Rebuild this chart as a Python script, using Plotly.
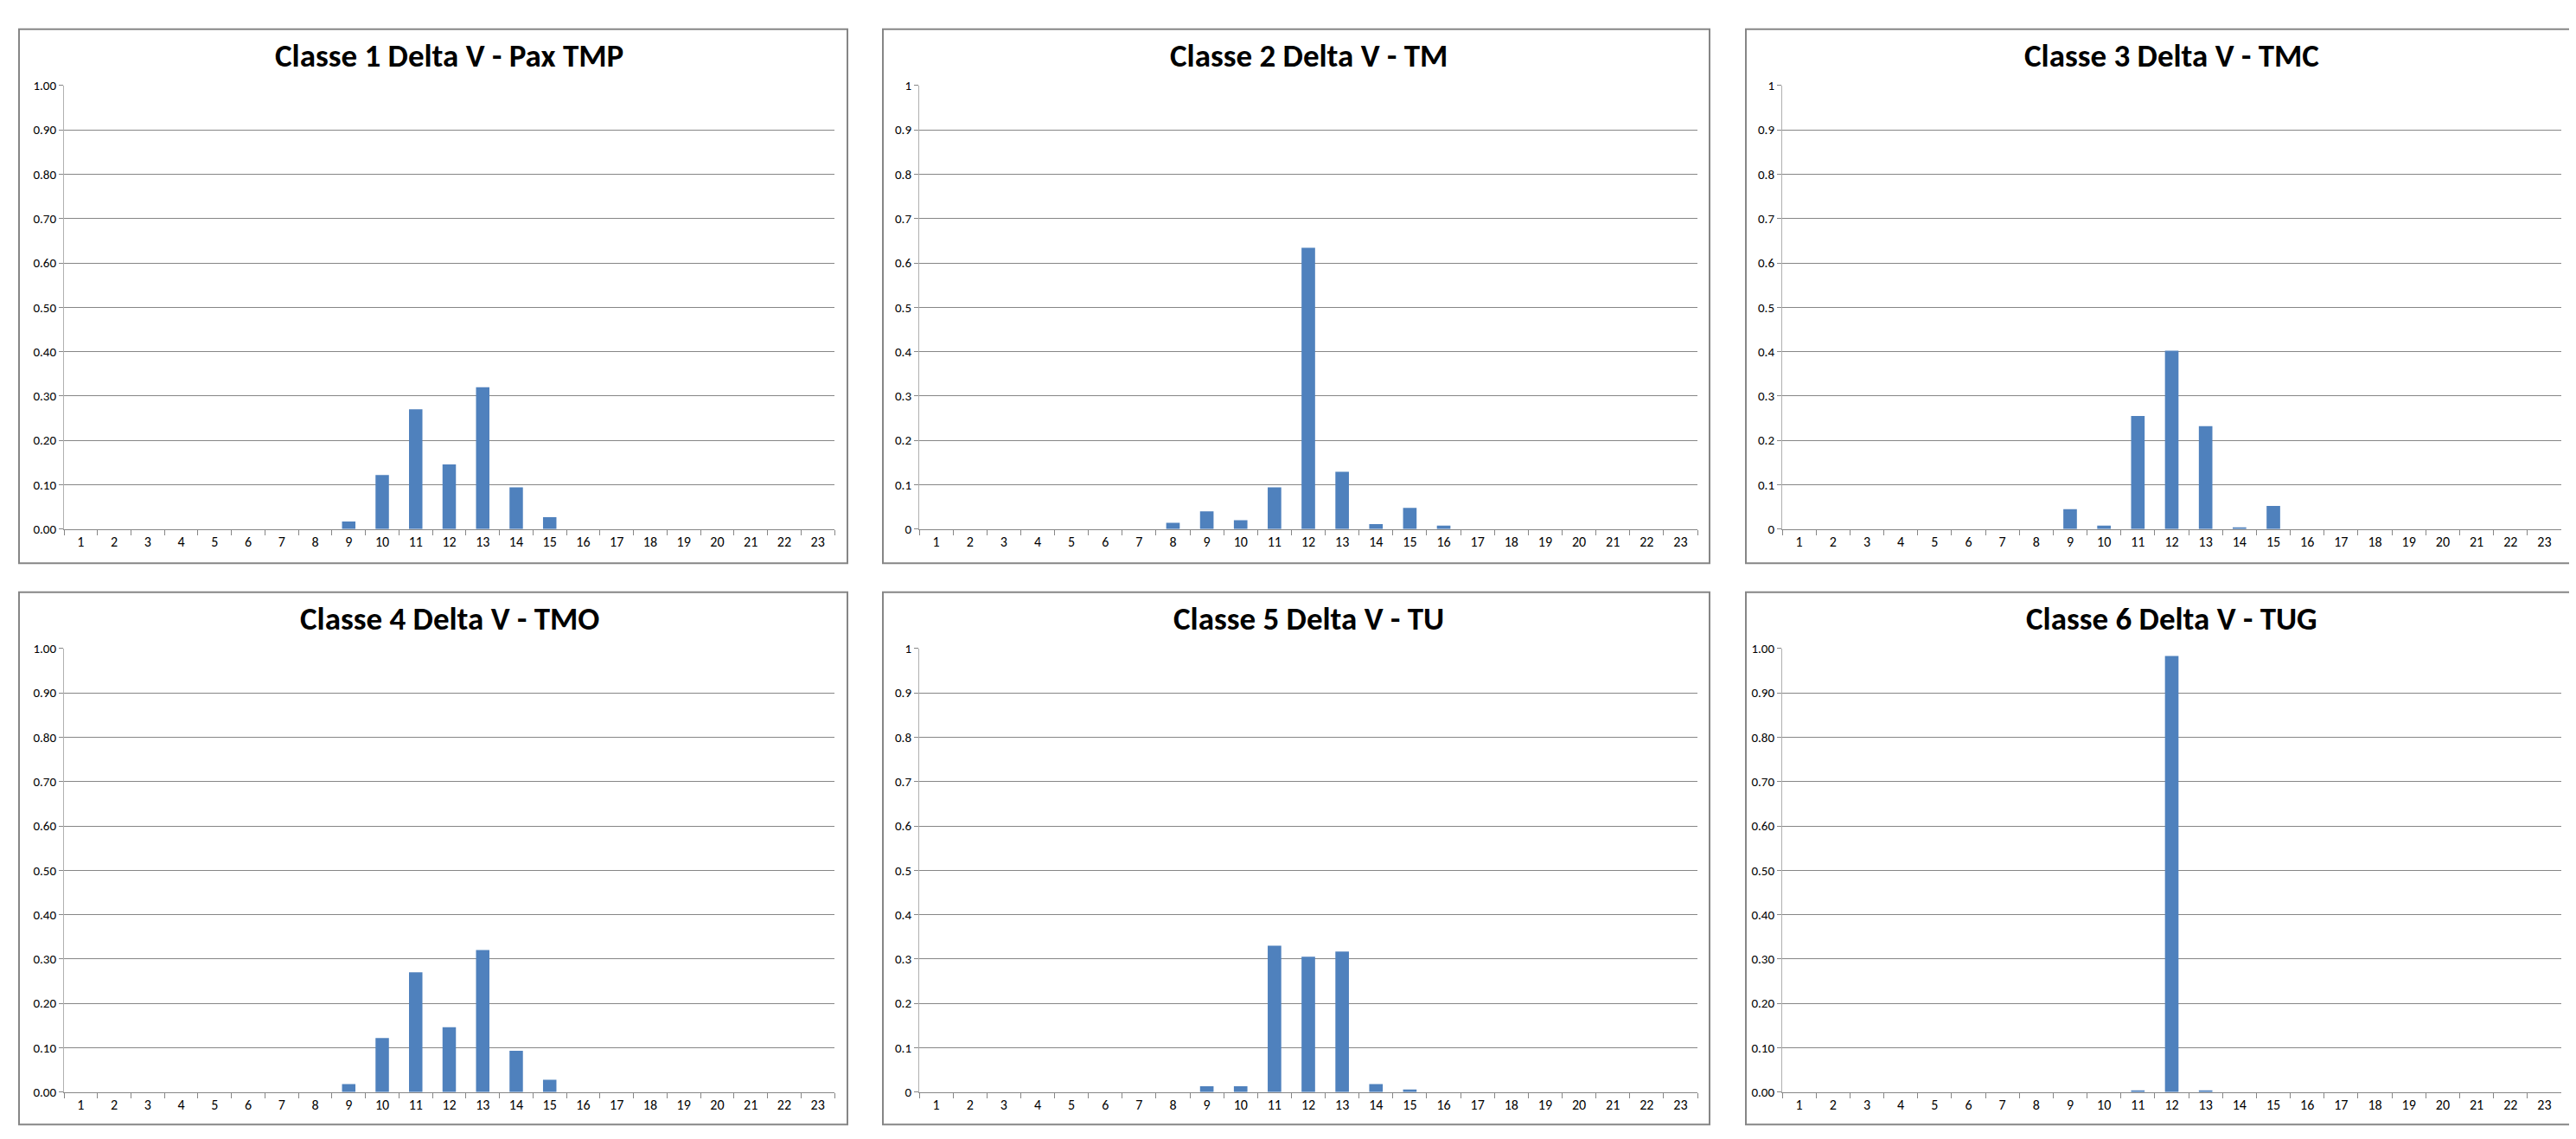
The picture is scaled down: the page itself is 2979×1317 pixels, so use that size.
import plotly.graph_objects as go
from plotly.subplots import make_subplots

W, H = 2979, 1317

categories = [str(i) for i in range(1, 24)]

titles = [
    'Classe 1 Delta V - Pax TMP',
    'Classe 2 Delta V - TM',
    'Classe 3 Delta V - TMC',
    'Classe 4 Delta V - TMO',
    'Classe 5 Delta V - TU',
    'Classe 6 Delta V - TUG',
]

classe1 = [0, 0, 0, 0, 0, 0, 0, 0, 0.017, 0.122, 0.270, 0.146, 0.320, 0.094, 0.027, 0, 0, 0, 0, 0, 0, 0, 0]
classe2 = [0, 0, 0, 0, 0, 0, 0, 0.014, 0.040, 0.020, 0.094, 0.634, 0.129, 0.011, 0.048, 0.008, 0, 0, 0, 0, 0, 0, 0]
classe3 = [0, 0, 0, 0, 0, 0, 0, 0, 0.045, 0.008, 0.255, 0.402, 0.232, 0.003, 0.052, 0, 0, 0, 0, 0, 0, 0, 0]
classe4 = [0, 0, 0, 0, 0, 0, 0, 0, 0.018, 0.122, 0.270, 0.146, 0.320, 0.093, 0.028, 0, 0, 0, 0, 0, 0, 0, 0]
classe5 = [0, 0, 0, 0, 0, 0, 0, 0, 0.013, 0.013, 0.330, 0.305, 0.317, 0.018, 0.006, 0, 0, 0, 0, 0, 0, 0, 0]
classe6 = [0, 0, 0, 0, 0, 0, 0, 0, 0, 0, 0.004, 0.983, 0.004, 0, 0, 0, 0, 0, 0, 0, 0, 0, 0]

# y tick label style per panel: Excel "0.00" vs general format
y_formats = ['.2f', '', '', '.2f', '', '.2f']

series = [classe1, classe2, classe3, classe4, classe5, classe6]

# pixel layout (plot areas and chart borders)
plot_x = [(66, 957), (1055, 1955), (2053, 2954)]
plot_y = [(83, 603), (743, 1263)]
box_x = [(14, 972), (1013, 1969), (2011, 2968)]
box_y = [(17, 643), (677, 1301)]
title_y = [48, 708]

FONT = 'Carlito, Liberation Sans Narrow, DejaVu Sans Condensed, Arial Narrow, sans-serif'
GRID = '#868686'
BLUE = '#4F81BD'

fig = make_subplots(rows=2, cols=3)

for i, vals in enumerate(series):
    r, c = i // 3 + 1, i % 3 + 1
    fig.add_trace(go.Bar(x=categories, y=vals, marker=dict(color=BLUE, line=dict(width=0)),
                         showlegend=False), row=r, col=c)
    x0, x1 = plot_x[c - 1]
    y0, y1 = plot_y[r - 1]
    fig.update_xaxes(domain=[x0 / W, x1 / W], type='category', tickson='boundaries',
                     ticks='outside', ticklen=6, tickcolor=GRID, showline=True, linecolor=GRID,
                     linewidth=1, showgrid=False, tickfont=dict(size=16, color='#000000', family=FONT),
                     fixedrange=True, row=r, col=c)
    fig.update_yaxes(domain=[1 - y1 / H, 1 - y0 / H], range=[0, 1], dtick=0.1, tick0=0,
                     tickformat=y_formats[i], ticks='outside', ticklen=5, tickcolor=GRID,
                     showline=True, linecolor='#b0b0b0', linewidth=1,
                     showgrid=True, gridcolor=GRID, gridwidth=1, zeroline=False,
                     tickfont=dict(size=15, color='#000000', family=FONT),
                     fixedrange=True, row=r, col=c)
    bx0, bx1 = box_x[c - 1]
    by0, by1 = box_y[r - 1]
    fig.add_shape(type='rect', xref='paper', yref='paper',
                  x0=bx0 / W, x1=bx1 / W, y0=1 - by1 / H, y1=1 - by0 / H,
                  line=dict(color=GRID, width=2), fillcolor='rgba(0,0,0,0)', layer='below')
    fig.add_annotation(text='<b>' + titles[i] + '</b>', xref='paper', yref='paper',
                       x=(x0 + x1) / 2 / W, y=1 - title_y[r - 1] / H, showarrow=False,
                       xanchor='center', yanchor='middle',
                       font=dict(size=37, color='#000000', family=FONT))

fig.update_layout(width=W, height=H, bargap=0.6,
                  margin=dict(l=0, r=0, t=0, b=0),
                  paper_bgcolor='white', plot_bgcolor='white')

fig.write_html('out.html')
